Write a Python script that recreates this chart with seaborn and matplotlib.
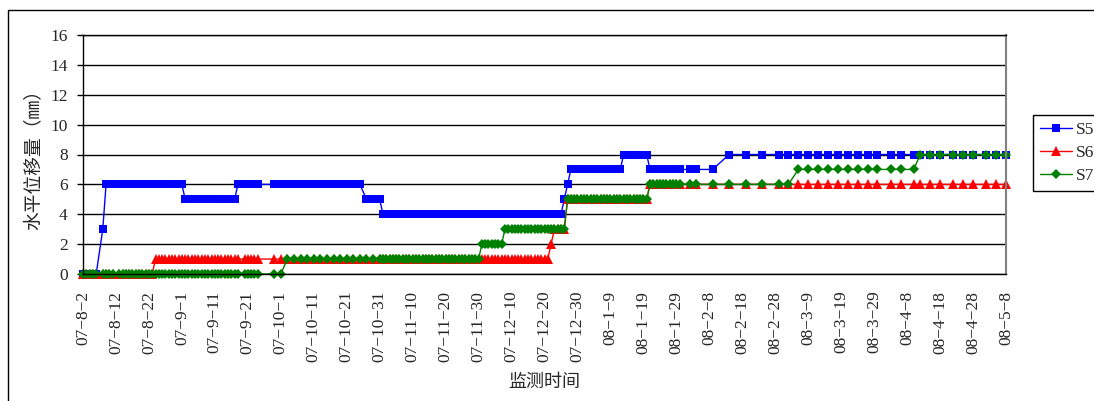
import numpy as np
import pandas as pd
import seaborn as sns
import matplotlib.pyplot as plt
from matplotlib.patches import Rectangle

# monitoring data
start = pd.Timestamp("2007-08-02")
n_days = 280

# days after 07-8-2 on which readings were taken
obs_days = ([d for d in range(0, 54) if d not in (5, 10, 48)]
            + list(range(58, 90, 2))
            + list(range(90, 182))
            + [184, 186, 191, 196, 201, 206, 211, 214, 217, 220, 223, 226,
               229, 232, 235, 238, 241, 245, 248, 252, 254, 257, 260, 264,
               267, 270, 274, 277, 280])

# (first day, value) for each level of the step-like readings, mm
s5_steps = [(0, 0), (6, 3), (7, 6), (31, 5), (47, 6), (85, 5), (91, 4),
            (146, 5), (147, 6), (148, 7), (164, 8), (172, 7), (196, 8)]
s6_steps = [(0, 0), (22, 1), (142, 2), (143, 3), (147, 5), (172, 6)]
s7_steps = [(0, 0), (61, 1), (121, 2), (128, 3), (147, 5), (172, 6),
            (215, 7), (253, 8)]

series_names = ["S5", "S6", "S7"]
colors = {"S5": "#0000FF", "S6": "#FF0000", "S7": "#008000"}
markers = {"S5": "s", "S6": "^", "S7": "D"}
marker_sizes = {"S5": 5.5, "S6": 7, "S7": 5.5}


def read_steps(steps, days):
    out = []
    for d in days:
        v = steps[0][1]
        for s, val in steps:
            if s <= d:
                v = val
        out.append(v)
    return out


dates = [start + pd.Timedelta(days=d) for d in obs_days]
wide = pd.DataFrame({"date": dates,
                     "S5": read_steps(s5_steps, obs_days),
                     "S6": read_steps(s6_steps, obs_days),
                     "S7": read_steps(s7_steps, obs_days)})
data = wide.melt(id_vars="date", var_name="测点", value_name="位移")

sns.set_style("white")
plt.rcParams['font.family'] = ['Liberation Serif', 'Noto Sans CJK SC']

W, H = 1094, 401
fig = plt.figure(figsize=(W / 100, H / 100), dpi=100)
ax = fig.add_axes([83 / W, 1 - 274 / H, 923 / W, 239 / H])

sns.lineplot(data=data, x="date", y="位移", hue="测点", style="测点",
             hue_order=series_names, style_order=series_names,
             palette=colors, markers=markers, dashes=False,
             linewidth=1, markersize=5.5, markeredgewidth=0,
             legend=False, ax=ax, clip_on=False)

handles = ax.get_lines()[:3]
for line, name in zip(handles, series_names):
    line.set_markersize(marker_sizes[name])

ax.set_xlim(start, start + pd.Timedelta(days=n_days))
ax.set_ylim(0, 16)
ax.set_yticks(range(0, 17, 2))

tick_dates = [start + pd.Timedelta(days=10 * k) for k in range(n_days // 10 + 1)]
tick_labels = [f"{d.year % 100:02d}\u2212{d.month}\u2212{d.day}" for d in tick_dates]
ax.set_xticks([d.to_pydatetime() for d in tick_dates])
ax.set_xticklabels(tick_labels, rotation=90, fontsize=12.5)
ax.tick_params(axis="x", direction="in", length=5, width=1, color="black", pad=12)
ax.tick_params(axis="y", direction="out", length=4, width=1, color="black",
               pad=7, labelsize=12.5, left=True)

ax.yaxis.grid(True, color="black", linewidth=1)
ax.xaxis.grid(False)
for side in ["left", "bottom", "top"]:
    ax.spines[side].set_color("black")
    ax.spines[side].set_linewidth(1)
ax.spines["right"].set_color("#808080")
ax.spines["right"].set_linewidth(1.5)

ax.set_xlabel("监测时间", fontsize=13)
ax.set_ylabel("水平位移量（㎜）", fontsize=13.5)
ax.xaxis.set_label_coords(0.5, -0.42)
ax.yaxis.set_label_coords(-0.043, 0.5)

leg = ax.legend(handles, series_names, loc="upper left",
                bbox_to_anchor=(1.029, 0.665), borderaxespad=0,
                fontsize=12.5, frameon=True, fancybox=False,
                edgecolor="black", framealpha=1, handlelength=1.85,
                handletextpad=0.25, labelspacing=0.38, borderpad=0.4)
leg.get_frame().set_linewidth(1)

# outer chart-area border
fig.add_artist(Rectangle((8 / W, -0.1), 1.2, 1 - 10 / H + 0.1,
                         transform=fig.transFigure, fill=False,
                         edgecolor="black", linewidth=1))

fig.savefig("out.png", dpi=100)
